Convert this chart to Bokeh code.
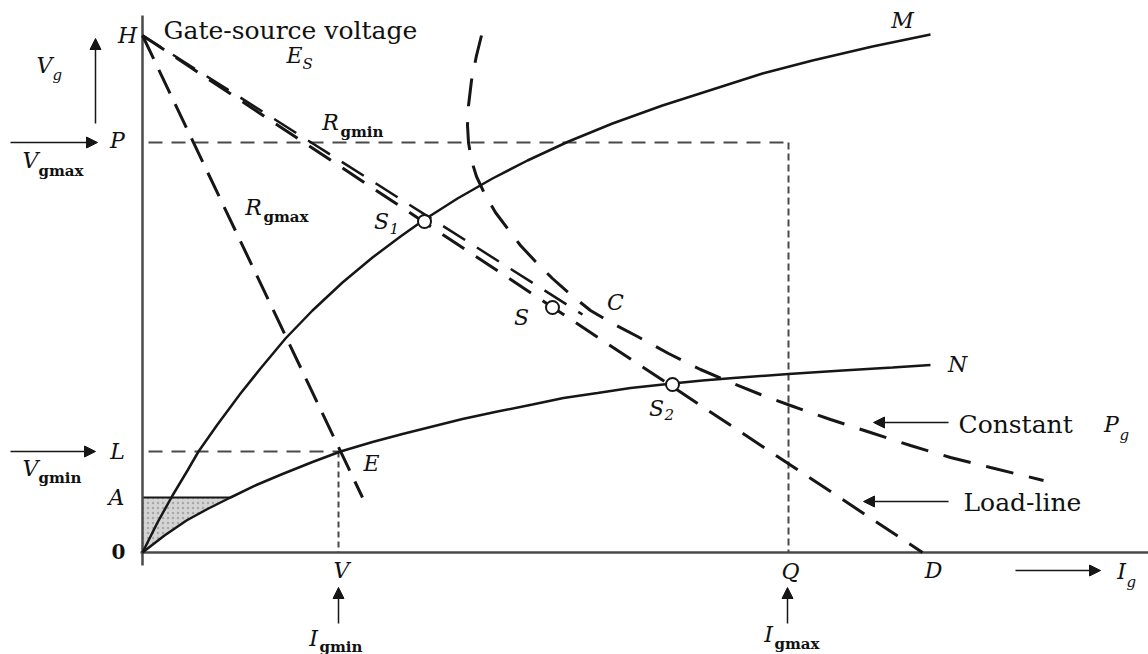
from bokeh.plotting import figure
from bokeh.models import Range1d, Arrow, NormalHead
from bokeh.core.properties import value
from bokeh.embed import file_html
from bokeh.resources import INLINE

# Gate characteristics (arbitrary units: gate current I_g across, gate voltage V_g up)
# Upper limit curve M (high-resistance gate spread)
m_i = [0, 15, 30, 45, 56, 75, 98, 118, 143, 170, 200, 230, 258, 282, 315, 350,
       385, 426, 470, 520, 570, 620, 670, 730, 788]
m_v = [0, 30, 57, 82, 101, 128, 159, 184, 214, 242, 270, 295, 316, 333, 354, 374,
       392, 411, 429, 447, 463, 479, 492, 506, 518]
# Lower limit curve N (low-resistance gate spread)
n_i = [0, 22, 44, 66, 88, 115, 140, 170, 198, 230, 260, 290, 320, 355, 390, 421,
       455, 488, 530, 560, 591, 646, 700, 750, 788]
n_v = [0, 17, 32, 44, 55, 68, 78.5, 90.5, 101, 110.5, 118.5, 126, 133.5, 141, 148,
       154.5, 159.5, 164.5, 169, 172, 174.5, 178.5, 182, 185, 187.5]
# Constant gate-power curve P_g
pg_i = [339, 334, 329, 326, 325, 326, 329, 334, 342, 353, 365, 378, 393, 410, 428,
        448, 470, 495, 526, 558, 588, 618, 648, 688, 728, 768, 808, 848, 901]
pg_v = [517, 497, 472, 447, 427, 410, 392, 376, 359, 340, 324, 307, 291, 274, 258,
        242, 229, 216, 199, 183, 170, 158, 147, 133, 120, 107, 95, 85, 72]

# Levels on the axes
V_H = 517   # gate-source voltage E_S
V_P = 410   # V_gmax
V_L = 101   # V_gmin
V_A = 55    # minimum non-firing level
I_Q = 646   # I_gmax
I_V = 196   # I_gmin
I_D = 780   # short-circuit gate current

# Lines drawn from H
load_i = [0, I_D]
load_v = [V_H, 0]
rmin_i = [0, 440]
rmin_v = [V_H, 238]
rmax_i = [0, 220]
rmax_v = [V_H, 55]

# Operating points S1, S, S2 on the load line
op_i = [282, 410, 530]
op_v = [331, 245, 168]

p = figure(width=1148, height=654, x_range=Range1d(-142, 1006),
           y_range=Range1d(-102, 552), output_backend="svg",
           toolbar_location=None, min_border=0,
           x_axis_location=None, y_axis_location=None)
p.grid.visible = False
p.outline_line_color = None
p.background_fill_color = "white"
p.border_fill_color = "white"

INK = "#161616"
GREY = "#4a4a4a"

# Shaded region below A, between the V_g axis and curve N
shade_x = [0, 0] + n_i[4::-1]
shade_y = [0, V_A] + n_v[4::-1]
p.patch(shade_x, shade_y, fill_color="#d4d4d4", line_color=None,
        hatch_pattern=".", hatch_color="#a8a8a8", hatch_scale=5)
p.line([0, n_i[4]], [V_A, V_A], line_color=INK, line_width=2)

# Axes
p.line([0, 0], [-13, 537], line_color=GREY, line_width=2.5)
p.line([-2, 1006], [0, 0], line_color=GREY, line_width=2.5)

# Limit lines for V_gmax / I_gmax and V_gmin / I_gmin
p.line([6, I_Q], [V_P, V_P], line_color=GREY, line_width=2, line_dash="14 9")
p.line([I_Q, I_Q], [V_P, 0], line_color=GREY, line_width=2, line_dash="7 4")
p.line([6, I_V + 2], [V_L, V_L], line_color=GREY, line_width=2, line_dash="14 9")
p.line([I_V, I_V], [V_L, 0], line_color=GREY, line_width=2, line_dash="6 4")

# Characteristic curves
p.line(m_i, m_v, line_color=INK, line_width=2.5)
p.line(n_i, n_v, line_color=INK, line_width=2.5)

# Constant power curve, load line and resistance lines
p.line(pg_i, pg_v, line_color=INK, line_width=3, line_dash="28 16")
p.line(load_i, load_v, line_color=INK, line_width=3, line_dash="26 14")
p.line(rmin_i, rmin_v, line_color=INK, line_width=2.5, line_dash="26 14",
       line_dash_offset=4)
p.line(rmax_i, rmax_v, line_color=INK, line_width=3, line_dash="26 12")

# Operating points
p.scatter(op_i, op_v, size=13, fill_color="white", line_color=INK, line_width=2)

# Pointer arrows
arrows = [
    (-47, 429, -47, 514),    # V_g
    (-132, V_P, -45, V_P),   # V_gmax
    (-132, V_L, -47, V_L),   # V_gmin
    (I_V, -71, I_V, -35),    # I_gmin
    (I_Q - 1, -71, I_Q - 1, -35),  # I_gmax
    (873, -18, 958, -18),    # I_g
    (806, 130, 731, 130),    # constant P_g
    (806, 51, 721, 51),      # load-line
]
for xs, ys, xe, ye in arrows:
    p.add_layout(Arrow(end=NormalHead(size=11, fill_color=INK, line_color=INK),
                       x_start=xs, y_start=ys, x_end=xe, y_end=ye,
                       line_color=INK, line_width=1.5))

SERIF = value("DejaVu Serif")


def labels(xs, ys, texts, size, style="italic", align="center"):
    p.text(x=xs, y=ys, text=texts, text_font=SERIF, text_font_style=style,
           text_font_size=size, text_align=align, text_baseline="middle",
           text_color="#111111")


# Point letters
labels([-15, -25, -25, -26, 760, 815, 473, 379, 229, 648, 791, 199],
       [517, 412, 101, 55, 532, 188, 250, 235, 89, -19, -18, -18],
       ["H", "P", "L", "A", "M", "N", "C", "S", "E", "Q", "D", "V"], "22px")
# Main symbols carrying subscripts
labels([152, -98, -112, -112, 188, 111, 239, 514, 979, 626, 171, 969],
       [497, 487, 392, 84, 430, 345, 331, 144, -19, -82, -86, 128],
       ["E", "V", "V", "V", "R", "R", "S", "S", "I", "I", "I", "P"], "22px")
# Subscripts
labels([160, -90, 247, 522, 984, 977],
       [489, 478, 324, 138, -29, 118],
       ["S", "g", "1", "2", "g", "g"], "15px", align="left")
labels([-104, 198, 121, 632, -104, 177],
       [382, 421, 336, -91, 75, -94],
       ["gmax", "gmin", "gmax", "gmax", "gmin", "gmin"], "15px",
       style="bold", align="left")
# Origin
labels([-24], [1], ["0"], "20px", style="bold")
# Words
labels([21], [522], ["Gate-source voltage"], "25px", style="normal", align="left")
labels([816], [128], ["Constant"], "25px", style="normal", align="left")
labels([821], [50], ["Load-line"], "25px", style="normal", align="left")

open("out.html", "w").write(file_html(p, INLINE))
